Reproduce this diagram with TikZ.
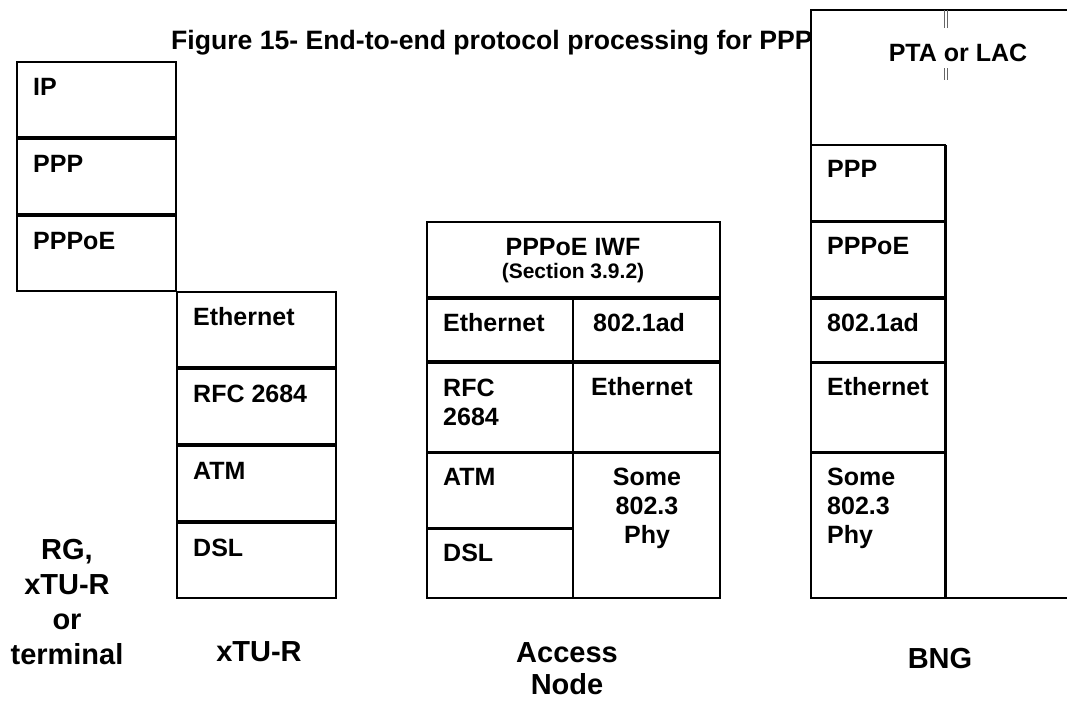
\documentclass[tikz,border=0pt]{standalone}
\usepackage{fontspec}
\setmainfont{Liberation Sans}
\usepackage{tikz}
\newcommand{\layertext}[2]{\begin{tabular}[t]{@{}#1@{}}#2\end{tabular}}
\tikzset{
    box/.style={draw=black, line width=1.6pt},
    tick/.style={draw=black!60, line width=0.7pt},
    lbl/.style={anchor=base west, inner sep=0pt,
        font=\bfseries\fontsize{25}{29}\selectfont},
    clbl/.style={lbl, anchor=base},
    small/.style={clbl, font=\bfseries\fontsize{21}{25}\selectfont},
    title/.style={anchor=base west, inner sep=0pt,
        font=\bfseries\fontsize{26.6}{30}\selectfont},
    site/.style={anchor=base, inner sep=0pt,
        font=\bfseries\fontsize{29}{35}\selectfont},
}

\begin{document}
\begin{tikzpicture}[x=1pt, y=-1pt]
    \useasboundingbox (0,0) rectangle (1067,701);
    \node[title] (fig) at (171,49) {Figure 15- End-to-end protocol processing for PPP};
    % RG / terminal stack
    \foreach \y/\t/\n in {62/IP/rgip, 139/PPP/rgppp, 216/PPPoE/rgpppoe} {
        \draw[box] (17,\y) rectangle (176,\y+75);
        \node[lbl] (\n) at (33,\y+33) {\t};
    }
    % xTU-R stack
    \foreach \y/\t/\n in {292/Ethernet/xeth, 369/RFC 2684/xrfc, 446/ATM/xatm, 523/DSL/xdsl} {
        \draw[box] (177,\y) rectangle (336,\y+75);
        \node[lbl] (\n) at (193,\y+33) {\t};
    }
    % Access Node
    \draw[box] (427,222) rectangle (720,297);
    \node[clbl] (iwf) at (573,255) {PPPoE IWF};
    \node[small] (iwfsec) at (573,278) {(Section 3.9.2)};
    \draw[box] (427,299) rectangle (573,361);
    \node[lbl] (aneth) at (443,331) {Ethernet};
    \draw[box] (573,299) rectangle (720,361);
    \node[lbl] (anad) at (593,331) {802.1ad};
    \draw[box] (427,363) rectangle (573,452);
    \node[lbl] (anrfc) at (443,396) {\layertext{l}{RFC\\2684}};
    \draw[box] (573,363) rectangle (720,452);
    \node[lbl] (aneth2) at (591,395) {Ethernet};
    \draw[box] (427,453) rectangle (573,528);
    \node[lbl] (anatm) at (443,485) {ATM};
    \draw[box] (427,529) rectangle (573,598);
    \node[lbl] (andsl) at (443,561) {DSL};
    \draw[box] (573,453) rectangle (720,598);
    \node[clbl] (anphy) at (647,485) {\layertext{c}{Some\\802.3\\Phy}};
    % BNG with PTA or LAC
    \fill[white] (811,10) rectangle (1067,598);
    \draw[box] (1067,10) -- (811,10) -- (811,145);
    \draw[box] (946,145) -- (946,598) -- (1067,598);
    \draw[tick] (944.5,10) -- (944.5,28) (944.5,68) -- (944.5,80);
    \draw[tick] (947.5,10) -- (947.5,28) (947.5,68) -- (947.5,80);
    \node[clbl] (pta) at (958,62) {PTA or LAC};
    \draw[box] (811,145) rectangle (945,221);
    \node[lbl] (bppp) at (827,177) {PPP};
    \draw[box] (811,222) rectangle (945,297);
    \node[lbl] (bpppoe) at (827,254) {PPPoE};
    \draw[box] (811,299) rectangle (945,362);
    \node[lbl] (bad) at (827,331) {802.1ad};
    \draw[box] (811,363) rectangle (945,452);
    \node[lbl] (beth) at (827,395) {Ethernet};
    \draw[box] (811,453) rectangle (945,598);
    \node[lbl] (bphy) at (827,485) {\layertext{l}{Some\\802.3\\Phy}};
    % site names
    \node[site] (rg) at (67,559) {\layertext{c}{RG,\\xTU-R\\or\\terminal}};
    \node[site] (xtur) at (259,661) {xTU-R};
    \node[site] (an) at (567,662) {Access};
    \node[site] (annode) at (567,694) {Node};
    \node[site] (bng) at (940,668) {BNG};
\end{tikzpicture}
\end{document}
